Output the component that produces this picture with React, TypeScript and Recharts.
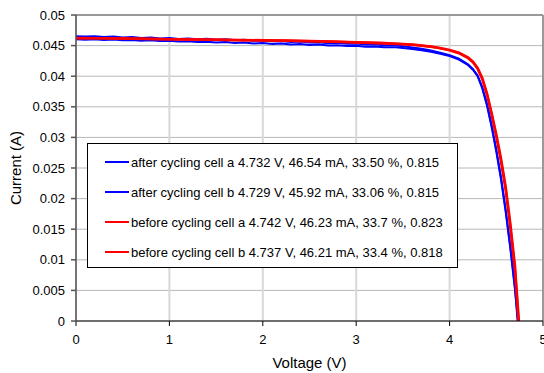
import React from "react";
import { LineChart, Line, XAxis, YAxis, CartesianGrid, Legend, ReferenceLine } from "recharts";

const seriesNames = [
  "after cycling cell a 4.732 V, 46.54 mA, 33.50 %, 0.815",
  "after cycling cell b 4.729 V, 45.92 mA, 33.06 %, 0.815",
  "before cycling cell a 4.742 V, 46.23 mA, 33.7 %, 0.823",
  "before cycling cell b 4.737 V, 46.21 mA, 33.4 %, 0.818",
];
const seriesColors = ["#0000ff", "#0000ff", "#ff0000", "#ff0000"];

const xTicks = [0, 1, 2, 3, 4, 5];
const yTicks = [0, 0.005, 0.01, 0.015, 0.02, 0.025, 0.03, 0.035, 0.04, 0.045, 0.05];

const afterAV = [0, 0.1, 0.2, 0.3, 0.4, 0.5, 0.6, 0.7, 0.8, 0.9, 1.0, 1.1, 1.2, 1.3, 1.4, 1.5, 1.6, 1.7, 1.8, 1.9, 2.0, 2.1, 2.2, 2.3, 2.4, 2.5, 2.6, 2.7, 2.8, 2.9, 3.0, 3.1, 3.2, 3.3, 3.4, 3.5, 3.6, 3.7, 3.8, 3.9, 4.0, 4.1, 4.2, 4.25, 4.3, 4.35, 4.4, 4.45, 4.5, 4.55, 4.6, 4.65, 4.7, 4.732];
const afterAI = [0.04652, 0.04647, 0.04654, 0.04641, 0.04648, 0.04633, 0.0464, 0.04626, 0.04633, 0.04618, 0.04624, 0.04609, 0.04617, 0.04603, 0.0461, 0.04596, 0.04603, 0.04588, 0.04594, 0.04579, 0.04584, 0.0457, 0.04576, 0.0456, 0.04566, 0.04551, 0.04556, 0.0454, 0.04545, 0.0453, 0.04534, 0.04518, 0.04522, 0.04505, 0.04506, 0.04488, 0.0447, 0.04448, 0.0442, 0.04385, 0.04345, 0.04285, 0.0419, 0.04115, 0.0401, 0.0382, 0.0355, 0.032, 0.028, 0.0235, 0.0182, 0.0122, 0.0055, 0];

const afterBV = [0, 0.1, 0.2, 0.3, 0.4, 0.5, 0.6, 0.7, 0.8, 0.9, 1.0, 1.1, 1.2, 1.3, 1.4, 1.5, 1.6, 1.7, 1.8, 1.9, 2.0, 2.1, 2.2, 2.3, 2.4, 2.5, 2.6, 2.7, 2.8, 2.9, 3.0, 3.1, 3.2, 3.3, 3.4, 3.5, 3.6, 3.7, 3.8, 3.9, 4.0, 4.1, 4.2, 4.25, 4.3, 4.35, 4.4, 4.45, 4.5, 4.55, 4.6, 4.65, 4.7, 4.729];
const afterBI = [0.04602, 0.04596, 0.04604, 0.04591, 0.04598, 0.04587, 0.04593, 0.0458, 0.04587, 0.04574, 0.04578, 0.04566, 0.04572, 0.04559, 0.04564, 0.04551, 0.04558, 0.04544, 0.0455, 0.04536, 0.04541, 0.04528, 0.04533, 0.0452, 0.04525, 0.04511, 0.04516, 0.04502, 0.04507, 0.04493, 0.04497, 0.04483, 0.04487, 0.04472, 0.04475, 0.04459, 0.04443, 0.04423, 0.04398, 0.04366, 0.0433, 0.04272, 0.0418, 0.04105, 0.04, 0.038, 0.0352, 0.0317, 0.0277, 0.0232, 0.0179, 0.0119, 0.0052, 0];

const beforeAV = [0, 0.25, 0.5, 0.75, 1.0, 1.25, 1.5, 1.75, 2.0, 2.25, 2.5, 2.75, 3.0, 3.25, 3.5, 3.6, 3.7, 3.8, 3.9, 4.0, 4.1, 4.2, 4.25, 4.3, 4.35, 4.4, 4.45, 4.5, 4.55, 4.6, 4.65, 4.7, 4.742];
const beforeAI = [0.04625, 0.04622, 0.04617, 0.04612, 0.04605, 0.04601, 0.04597, 0.04592, 0.04588, 0.04582, 0.04575, 0.04566, 0.04556, 0.04545, 0.04528, 0.04517, 0.04503, 0.04486, 0.04462, 0.0443, 0.04385, 0.04305, 0.0424, 0.04135, 0.0397, 0.0372, 0.034, 0.0305, 0.0266, 0.022, 0.016, 0.009, 0];

const beforeBV = [0, 0.25, 0.5, 0.75, 1.0, 1.25, 1.5, 1.75, 2.0, 2.25, 2.5, 2.75, 3.0, 3.25, 3.5, 3.6, 3.7, 3.8, 3.9, 4.0, 4.1, 4.2, 4.25, 4.3, 4.35, 4.4, 4.45, 4.5, 4.55, 4.6, 4.65, 4.7, 4.737];
const beforeBI = [0.04621, 0.04619, 0.04614, 0.04609, 0.04603, 0.04598, 0.04594, 0.04589, 0.04584, 0.04578, 0.04571, 0.04562, 0.04552, 0.0454, 0.04523, 0.04512, 0.04497, 0.0448, 0.04455, 0.04422, 0.04376, 0.04294, 0.04228, 0.0412, 0.0395, 0.037, 0.0337, 0.0301, 0.0261, 0.0214, 0.0153, 0.0082, 0];

const toPoints = (vs: number[], is: number[]) => vs.map((v, k) => ({ v, i: is[k] }));
const seriesData = [
  toPoints(afterAV, afterAI),
  toPoints(afterBV, afterBI),
  toPoints(beforeAV, beforeAI),
  toPoints(beforeBV, beforeBI),
];
const seriesWidths = [2, 2, 2.5, 2.5];

const fmt = (n: number) => String(Number(n.toFixed(4)));

const LegendBox = (props: any) => {
  const payload = props.payload || [];
  return (
    <div
      style={{
        border: "1px solid #000",
        background: "#fff",
        width: 369,
        height: 120,
        boxSizing: "content-box",
        paddingTop: 3,
        fontSize: 13,
        fontFamily: "'Liberation Sans', Arial, sans-serif",
        color: "#000",
      }}
    >
      {payload.map((p: any, k: number) => (
        <div key={k} style={{ display: "flex", alignItems: "center", height: 30, paddingLeft: 17 }}>
          <svg width={24} height={4} style={{ marginRight: 2 }}>
            <line x1={0} y1={2} x2={24} y2={2} stroke={p.color} strokeWidth={2} />
          </svg>
          <span style={{ whiteSpace: "nowrap" }}>{p.value}</span>
        </div>
      ))}
    </div>
  );
};

export default function App() {
  return (
    <div style={{ position: "absolute", left: 0, top: 0, width: 544, height: 373, background: "#fff" }}>
      <LineChart
        width={544}
        height={373}
        margin={{ top: 15, right: 1, bottom: 0, left: 16 }}
        style={{ fontFamily: "'Liberation Sans', Arial, sans-serif" }}
      >
        <CartesianGrid vertical={false} stroke="#b8b8b8" strokeWidth={1} />
        <CartesianGrid horizontal={false} stroke="#d8d8d8" strokeWidth={2} />
        <XAxis
          type="number"
          dataKey="v"
          domain={[0, 5]}
          ticks={xTicks}
          interval={0}
          allowDataOverflow
          height={52}
          tickSize={5}
          tickMargin={9}
          stroke="#000"
          tick={{ fill: "#000", fontSize: 13 }}
          label={{ value: "Voltage (V)", position: "insideBottom", offset: 5, fill: "#000", fontSize: 15 }}
        />
        <YAxis
          type="number"
          domain={[0, 0.05]}
          ticks={yTicks}
          interval={0}
          width={60}
          tickSize={5}
          tickMargin={6}
          stroke="#555"
          strokeWidth={1.5}
          tickFormatter={fmt}
          tick={{ fill: "#000", fontSize: 13 }}
          label={{ value: "Current (A)", angle: -90, position: "center", dx: -30, fill: "#000", fontSize: 15 }}
        />
        <ReferenceLine y={0.05} stroke="#999" strokeWidth={2} />
        <ReferenceLine x={5} stroke="#999" strokeWidth={2} />
        {seriesData.map((d, k) => (
          <Line
            key={k}
            data={d}
            dataKey="i"
            name={seriesNames[k]}
            stroke={seriesColors[k]}
            strokeWidth={seriesWidths[k]}
            dot={false}
            type="linear"
            isAnimationActive={false}
          />
        ))}
        <Legend
          layout="horizontal"
          verticalAlign="middle"
          align="center"
          content={<LegendBox />}
          wrapperStyle={{ position: "absolute", left: 87, top: 143, width: 371, height: 125 }}
        />
      </LineChart>
    </div>
  );
}
